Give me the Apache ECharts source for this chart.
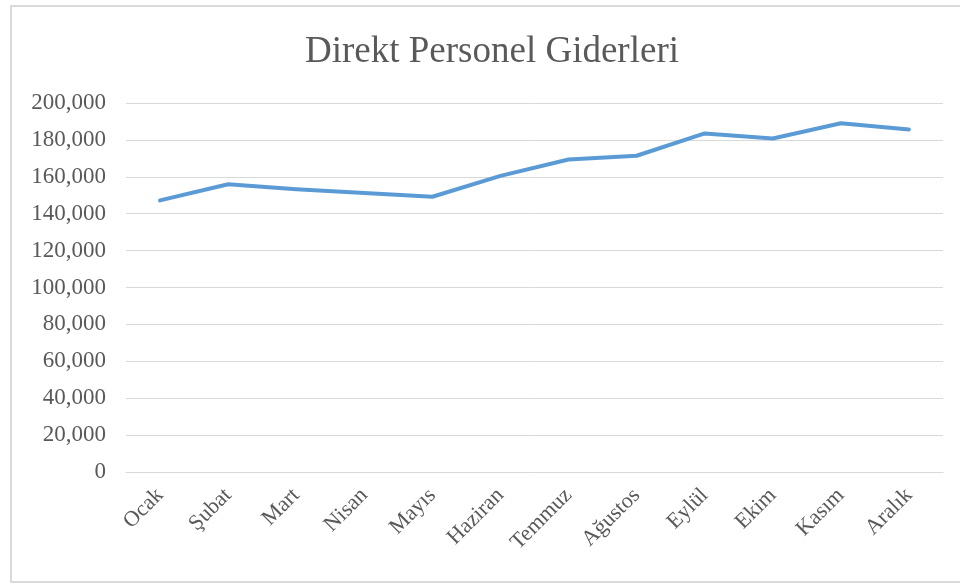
<!DOCTYPE html>
<html>
<head>
<meta charset="utf-8">
<script src="https://cdn.jsdelivr.net/npm/echarts@6/dist/echarts.min.js"></script>
<style>
  html, body { margin: 0; padding: 0; background: #fff; overflow: hidden; }
  #main { position: absolute; left: 10px; top: 5px; width: 952px; height: 578px; border: 2px solid #d9d9d9; box-sizing: border-box; }
</style>
</head>
<body>
<div id="main"></div>
<script>
const months = ['Ocak', 'Şubat', 'Mart', 'Nisan', 'Mayıs', 'Haziran', 'Temmuz', 'Ağustos', 'Eylül', 'Ekim', 'Kasım', 'Aralık'];
const giderler = [147200, 156000, 153200, 151200, 149200, 160500, 169400, 171400, 183500, 180800, 189000, 185700];

const chart = echarts.init(document.getElementById('main'), null, { renderer: 'canvas' });
const serif = '"Liberation Serif", "DejaVu Serif", serif';

var option = {
  animation: false,
  title: {
    text: 'Direkt Personel Giderleri',
    left: 288,
    top: 22,
    textStyle: { fontFamily: serif, fontSize: 37, fontWeight: 'normal', color: '#595959' }
  },
  grid: { left: 114, right: 17, top: 96, bottom: 109, containLabel: false },
  xAxis: {
    type: 'category',
    data: months,
    boundaryGap: true,
    axisLine: { show: true, lineStyle: { color: '#d9d9d9' } },
    axisTick: { show: false },
    axisLabel: { rotate: 45, margin: 20, fontFamily: serif, fontSize: 22, color: '#595959' }
  },
  yAxis: {
    type: 'value',
    min: 0,
    max: 200000,
    interval: 20000,
    axisLine: { show: false },
    axisTick: { show: false },
    splitLine: { lineStyle: { color: '#d9d9d9' } },
    axisLabel: {
      margin: 20,
      fontFamily: serif,
      fontSize: 23,
      color: '#595959',
      formatter: function (v) { return v.toLocaleString('en-US'); }
    }
  },
  series: [{
    type: 'line',
    data: giderler,
    showSymbol: false,
    lineStyle: { color: '#5B9BD5', width: 4, cap: 'round', join: 'round' },
    itemStyle: { color: '#5B9BD5' }
  }]
};

chart.setOption(option);
</script>
</body>
</html>
